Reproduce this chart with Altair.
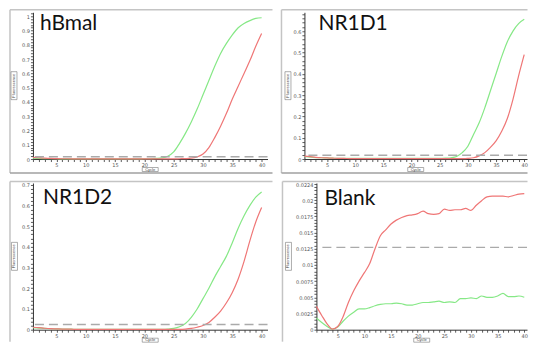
import altair as alt
import pandas as pd

CYCLES = list(range(1, 41))
SERIES = ["Sample A", "Sample B"]
GREEN = "#86e886"
RED = "#ef7676"
FRAME = "#c4c4c4"

HBMAL_GREEN = [0.006, 0.004, 0.003, 0.002, 0.002, 0.001, 0.001, 0.001, 0.001, 0.001,
               0.001, 0.001, 0.001, 0.001, 0.001, 0.001, 0.001, 0.001, 0.001, 0.002,
               0.002, 0.004, 0.008, 0.02, 0.05, 0.11, 0.18, 0.26, 0.35, 0.45,
               0.55, 0.65, 0.74, 0.81, 0.87, 0.92, 0.95, 0.97, 0.985, 0.99]
HBMAL_RED = [0.012, 0.009, 0.006, 0.004, 0.003, 0.002, 0.002, 0.001, 0.001, 0.001,
             0.001, 0.001, 0.001, 0.001, 0.001, 0.001, 0.001, 0.001, 0.001, 0.001,
             0.001, 0.001, 0.001, 0.001, 0.001, 0.002, 0.003, 0.006, 0.015, 0.035,
             0.08, 0.15, 0.23, 0.32, 0.42, 0.51, 0.6, 0.69, 0.79, 0.88]
NR1D1_GREEN = [0.012, 0.009, 0.007, 0.006, 0.005, 0.004, 0.003, 0.003, 0.003, 0.003,
               0.003, 0.003, 0.003, 0.003, 0.003, 0.003, 0.003, 0.003, 0.003, 0.003,
               0.003, 0.003, 0.003, 0.003, 0.003, 0.004, 0.006, 0.012, 0.03, 0.06,
               0.115, 0.17, 0.24, 0.32, 0.4, 0.48, 0.55, 0.6, 0.635, 0.655]
NR1D1_RED = [0.014, 0.011, 0.008, 0.006, 0.005, 0.004, 0.003, 0.003, 0.002, 0.002,
             0.002, 0.002, 0.002, 0.002, 0.002, 0.002, 0.002, 0.002, 0.002, 0.002,
             0.002, 0.002, 0.002, 0.002, 0.002, 0.002, 0.002, 0.002, 0.002, 0.003,
             0.006, 0.015, 0.03, 0.055, 0.085, 0.13, 0.19, 0.28, 0.39, 0.49]
NR1D2_GREEN = [0.01, 0.008, 0.006, 0.005, 0.004, 0.003, 0.003, 0.002, 0.002, 0.002,
               0.002, 0.002, 0.002, 0.002, 0.002, 0.002, 0.002, 0.002, 0.002, 0.002,
               0.002, 0.002, 0.002, 0.003, 0.006, 0.014, 0.03, 0.06, 0.1, 0.15,
               0.2, 0.255, 0.305, 0.355, 0.42, 0.49, 0.55, 0.6, 0.64, 0.665]
NR1D2_RED = [0.012, 0.01, 0.007, 0.005, 0.004, 0.003, 0.003, 0.002, 0.002, 0.002,
             0.002, 0.002, 0.002, 0.002, 0.002, 0.002, 0.002, 0.002, 0.002, 0.002,
             0.002, 0.002, 0.002, 0.002, 0.002, 0.002, 0.003, 0.006, 0.012, 0.02,
             0.035, 0.06, 0.09, 0.13, 0.18, 0.245, 0.33, 0.43, 0.52, 0.59]
BLANK_GREEN = [0.0018, 0.0011, 0.0005, 0.0001, 0.0004, 0.0013, 0.0021, 0.0027, 0.0032, 0.0032,
               0.0034, 0.0037, 0.0039, 0.004, 0.004, 0.0041, 0.004, 0.0038, 0.0038, 0.004,
               0.0042, 0.0042, 0.0043, 0.0044, 0.0042, 0.0043, 0.0042, 0.0048, 0.0048, 0.0049,
               0.0048, 0.0052, 0.005, 0.005, 0.0052, 0.0056, 0.0051, 0.0051, 0.0052, 0.005]
BLANK_RED = [0.0036, 0.0022, 0.0009, 0.0001, 0.0005, 0.002, 0.0042, 0.006, 0.0075, 0.0088,
             0.0102, 0.0125, 0.0145, 0.0154, 0.0163, 0.0169, 0.0173, 0.0176, 0.0177, 0.0179,
             0.0183, 0.0179, 0.0178, 0.0179, 0.0186, 0.0184, 0.0185, 0.0185, 0.0187, 0.0184,
             0.0192, 0.0199, 0.0205, 0.0206, 0.0206, 0.0206, 0.0205, 0.0207, 0.0209, 0.021]

THRESHOLDS = [0.016, 0.018, 0.025, 0.0127]
PANEL_NAMES = ["hBmal", "NR1D1", "NR1D2", "Blank"]

Y_TICKS_1 = [round(0.02 * i, 2) for i in range(52)]
Y_TICKS_2 = [round(0.02 * i, 2) for i in range(35)]
Y_TICKS_3 = [round(0.02 * i, 2) for i in range(36)]
Y_TICKS_4 = [round(0.0005 * i, 4) for i in range(45)] + [0.0224]

LABEL_TENTHS = "abs(datum.value*10 - round(datum.value*10)) < 0.001 ? format(datum.value, '.1~f') : ''"
LABEL_BLANK = ("abs(datum.value*400 - round(datum.value*400)) < 0.001 ? format(datum.value, '.4~f') : "
               "(datum.value > 0.0222 ? '0.0224' : '')")
X_LABELS = "datum.value % 5 == 0 ? datum.value : ''"

DECO = alt.Data(values=[{}])


def panel(name, green, red, thr, w, h, xmax, ymax, yvals, yexpr,
          frame_dx, frame_top, frame_right, box_dx, title_dx, title_dy, top_row):
    df = pd.DataFrame({
        "cycle": CYCLES * 2,
        "value": green + red,
        "series": [SERIES[0]] * len(green) + [SERIES[1]] * len(red),
    })
    xenc = alt.X("cycle:Q", scale=alt.Scale(domain=[1, xmax], nice=False, zero=False),
                 axis=alt.Axis(values=CYCLES, labelExpr=X_LABELS, title=None))

    def yenc(field):
        return alt.Y(field, scale=alt.Scale(domain=[0, ymax], nice=False),
                     axis=alt.Axis(values=yvals, labelExpr=yexpr, title=None))

    lines = alt.Chart(df).mark_line(strokeWidth=1.2, interpolate="monotone").encode(
        x=xenc, y=yenc("value:Q"),
        color=alt.Color("series:N", scale=alt.Scale(domain=SERIES, range=[GREEN, RED]), legend=None),
    )
    thr_rule = alt.Chart(alt.Data(values=[{"t": thr}])).mark_rule(
        color="#aaaaaa", strokeWidth=1.4, strokeDash=[9, 5]
    ).encode(y=yenc("t:Q"))

    bottom = h + 14 if top_row else h + 12
    layers = [
        alt.Chart(DECO).mark_rule(color=FRAME, strokeWidth=1.5).encode(
            x=alt.value(frame_dx), x2=alt.value(w + frame_right), y=alt.value(frame_top)),
        alt.Chart(DECO).mark_rule(color=FRAME, strokeWidth=1.5).encode(
            x=alt.value(frame_dx), y=alt.value(frame_top), y2=alt.value(bottom)),
    ]
    if top_row:
        layers.append(alt.Chart(DECO).mark_rule(color="#a0a0a0", strokeWidth=1.5).encode(
            x=alt.value(frame_dx), x2=alt.value(w + frame_right), y=alt.value(bottom)))
    layers += [
        lines,
        thr_rule,
        alt.Chart(DECO).mark_text(align="left", baseline="alphabetic", fontSize=21, font="Lato",
                                  color="#111111").encode(
            x=alt.value(title_dx), y=alt.value(title_dy), text=alt.value(name)),
        alt.Chart(DECO).mark_rect(fill="white", stroke="#777777", strokeWidth=0.6).encode(
            x=alt.value(box_dx - 3), x2=alt.value(box_dx + 3),
            y=alt.value(h / 2 - 14), y2=alt.value(h / 2 + 14)),
        alt.Chart(DECO).mark_text(angle=270, fontSize=4, color="#444444", baseline="middle",
                                  align="center").encode(
            x=alt.value(box_dx), y=alt.value(h / 2), text=alt.value("Fluorescence")),
        alt.Chart(DECO).mark_rect(fill="white", stroke="#777777", strokeWidth=0.6).encode(
            x=alt.value(w / 2 - 8), x2=alt.value(w / 2 + 8),
            y=alt.value(h + 8.5), y2=alt.value(h + 12.5)),
        alt.Chart(DECO).mark_text(fontSize=4, color="#444444", baseline="middle",
                                  align="center").encode(
            x=alt.value(w / 2), y=alt.value(h + 10.6), text=alt.value("Cycle")),
    ]
    return alt.layer(*layers).properties(width=w, height=h)


p1 = panel(PANEL_NAMES[0], HBMAL_GREEN, HBMAL_RED, THRESHOLDS[0], 235, 147, 41, 1.028,
           Y_TICKS_1, LABEL_TENTHS, -23, -2.5, 5, -19, 7, 18, True)
p2 = panel(PANEL_NAMES[1], NR1D1_GREEN, NR1D1_RED, THRESHOLDS[1], 223, 147, 40.49, 0.688,
           Y_TICKS_2, LABEL_TENTHS, -23, -2.5, 0.5, -16.5, 14, 18, True)
p3 = panel(PANEL_NAMES[2], NR1D2_GREEN, NR1D2_RED, THRESHOLDS[2], 235, 147, 41, 0.708,
           Y_TICKS_3, LABEL_TENTHS, -23, -1.5, 5, -18.5, 10, 21, False)
p4 = panel(PANEL_NAMES[3], BLANK_GREEN, BLANK_RED, THRESHOLDS[3], 211, 147, 40.51, 0.02263,
           Y_TICKS_4, LABEL_BLANK, -34, -1.5, 0.5, -28, 8, 22, False)

chart = alt.vconcat(
    alt.hconcat(p1, p2, spacing=37, bounds="flush"),
    alt.hconcat(p3, p4, spacing=49, bounds="flush"),
    spacing=6,
).properties(
    padding={"left": 1, "top": 0, "right": 0, "bottom": 0},
    background="white",
).configure_view(strokeWidth=0).configure_axis(
    domainColor="#333333", tickColor="#333333", labelColor="#555555",
    labelFont="DejaVu Sans", labelFontSize=5, tickSize=2.5, labelPadding=1,
    grid=False, domainWidth=1, tickWidth=0.8, labelFlush=False, labelOverlap=False,
)

chart.save("out.html", embed_options={"renderer": "svg", "actions": False})
